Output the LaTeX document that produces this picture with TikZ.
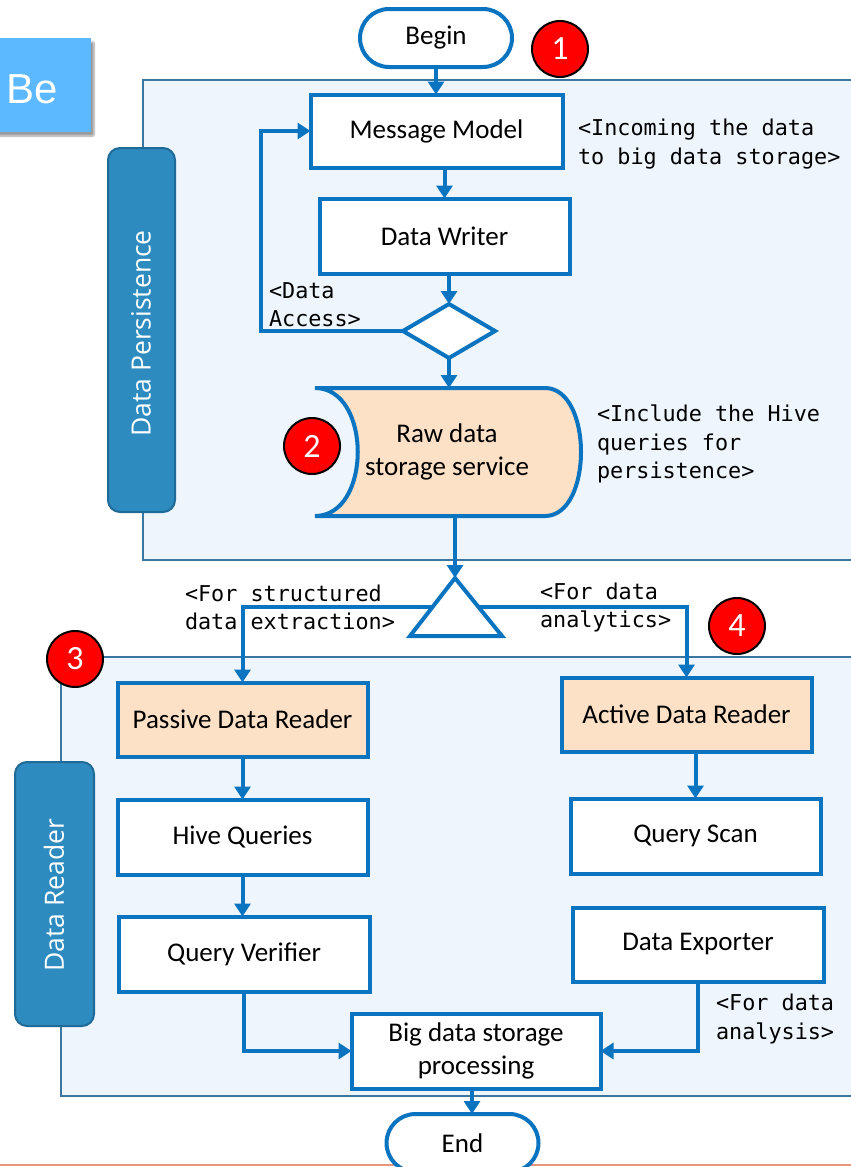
\documentclass[tikz,border=0pt]{standalone}
\usepackage{fontspec}
\setmainfont{Carlito}
\newfontfamily\codefont{DejaVu Sans Mono}
\newfontfamily\tabfont{Open Sans}
\newfontfamily\logofont{Liberation Sans}
\usetikzlibrary{arrows.meta,shapes.misc,shapes.geometric,calc,shadows.blur}

\definecolor{flow}{HTML}{0A74C0}
\definecolor{panelfill}{HTML}{EEF5FD}
\definecolor{paneledge}{HTML}{3A76A0}
\definecolor{tabfill}{HTML}{2E8BC0}
\definecolor{tabedge}{HTML}{1F6A96}
\definecolor{peach}{HTML}{FDE1C7}
\definecolor{badgered}{HTML}{FF0000}
\definecolor{logoblue}{HTML}{5CB8FF}
\definecolor{rulecol}{HTML}{E8967A}

\begin{document}
\begin{tikzpicture}[x=1pt,y=-1pt,
  every node/.style={inner sep=0pt, outer sep=0pt},
  boxtext/.style={font=\fontsize{27}{33}\selectfont, align=center},
  box/.style={boxtext, draw=flow, line width=4pt, fill=white, minimum width=250pt, minimum height=74pt},
  hotbox/.style={box, fill=peach},
  terminal/.style={boxtext, rounded rectangle, draw=flow, line width=4pt, fill=white, minimum width=152pt, minimum height=58pt},
  decision/.style={diamond, aspect=1.7, draw=flow, line width=4pt, fill=white, minimum width=92pt, minimum height=54pt},
  flowline/.style={draw=flow, line width=4pt},
  arrow/.style={flowline, -{Triangle[width=16pt,length=13pt]}},
  panel/.style={draw=paneledge, line width=2.5pt, fill=panelfill},
  tab/.style={draw=tabedge, line width=2pt, fill=tabfill, rounded corners=12pt},
  tabtext/.style={text=white, font=\tabfont\fontsize{26.5}{30}\selectfont},
  anno/.style={font=\codefont\fontsize{21.8}{28.5}\selectfont, align=left, anchor=west},
  badge/.style={circle, fill=badgered, draw=black, line width=2pt, minimum size=56pt, text=white, font=\fontsize{34}{34}\selectfont},
]
\useasboundingbox (0,0) rectangle (851,1167);
\clip (0,0) rectangle (851,1167);

% swim-lane panels
\draw[panel] (143,80) rectangle (880,560);
\draw[panel] (61,657) rectangle (880,1096);

% lane tabs
\node[tab, rotate=90, minimum width=364pt, minimum height=67pt] (tabA) at (141.5,330) {};
\node[tabtext, rotate=90] (tabAtext) at (141,333.5) {Data Persistence};
\node[tab, rotate=90, minimum width=264pt, minimum height=79pt] (tabB) at (54.5,894) {};
\node[tabtext, rotate=90] (tabBtext) at (54,895) {Data Reader};

% logo corner
\path[fill=logoblue, blur shadow={shadow xshift=3pt, shadow yshift=-4pt, shadow blur steps=6, shadow blur extra rounding=1pt}] (-10,38) rectangle (91,132);
\node[anchor=base east, text=white, font=\logofont\fontsize{42}{42}\selectfont] (logo) at (58,103) {Be};

% bottom rule
\draw[rulecol, line width=2.5pt] (0,1165) -- (851,1165);

% persistence lane
\node[terminal] (begin) at (436,38) {Begin};
\node[box, minimum width=252pt, minimum height=73pt] (mm) at (436.5,131) {Message Model};
\node[box, minimum width=250pt, minimum height=75pt] (dw) at (444.5,236) {Data Writer};
\node[decision] (dec) at (449,331) {};

\path[draw=flow, line width=4pt, fill=peach]
  (315,388) -- (545,388) .. controls (593,388) and (593,516) .. (545,516)
  -- (315,516) .. controls (372,516) and (372,388) .. (315,388) -- cycle;
\node[boxtext] (raw) at (447,452) {Raw data\\storage service};
\coordinate (rawtop) at (449,388);
\coordinate (rawbot) at (455,516);

\coordinate (triA) at (455,578);
\coordinate (triL) at (410,636);
\coordinate (triR) at (502,636);
\draw[flowline, fill=white, line join=miter] (triA) -- (triL) -- (triR) -- cycle;

% reader lane
\node[hotbox] (pdr) at (242.5,719.5) {Passive Data Reader};
\node[box, minimum height=75pt] (hq) at (242.5,837) {Hive Queries};
\node[box, minimum width=251pt, minimum height=75pt] (qv) at (244,954) {Query Verifier};
\node[hotbox] (adr) at (686.5,714.5) {Active Data Reader};
\node[box, minimum height=75pt] (qs) at (695.5,836) {Query Scan};
\node[box, minimum width=251pt] (de) at (698,944.5) {Data Exporter};
\node[box, minimum width=249pt, minimum height=75pt] (bdsp) at (476,1051) {Big data storage\\processing};
\node[terminal, minimum width=152pt] (end) at (462.5,1143) {End};

% connectors
\coordinate (loopx) at (261,0);
\coordinate (endx) at (472,0);
\draw[arrow] (begin.south) -- (begin.south |- mm.north);
\draw[arrow] (dw.north |- mm.south) -- (dw.north);
\draw[arrow] (dec.north |- dw.south) -- (dec.north);
\draw[arrow] (dec.south) -- (rawtop);
\draw[arrow, line join=miter] (dec.west) -- (dec.west -| loopx) |- (mm.west);
\draw[arrow] (rawbot) -- (triA);
\draw[arrow, line join=miter] ($(triA)!0.5!(triL)$) -| (pdr.north);
\draw[arrow, line join=miter] ($(triA)!0.5!(triR)$) -| (adr.north);
\draw[arrow] (pdr.south) -- (hq.north);
\draw[arrow] (hq.south) -- (hq.south |- qv.north);
\draw[arrow] (adr.south -| qs.north) -- (qs.north);
\draw[arrow, line join=miter] (qv.south) |- (bdsp.west);
\draw[arrow, line join=miter] (de.south) |- (bdsp.east);
\draw[arrow] (bdsp.south -| endx) -- (end.north -| endx);

% annotations
\node[anno] (a1) at (578,144) {<Incoming the data\\to big data storage>};
\node[anno] (a2) at (269,304.5) {<Data\\Access>};
\node[anno] (a3) at (597,444) {<Include the Hive\\queries for\\persistence>};
\node[anno] (a4) at (185,607.5) {<For structured\\data extraction>};
\node[anno] (a5) at (540,607.5) {<For data\\analytics>};
\node[anno] (a6) at (716,1019) {<For data\\analysis>};

% step badges
\node[badge] (b1) at (560,49) {1};
\node[badge] (b2) at (312,446) {2};
\node[badge] (b3) at (75,659) {3};
\node[badge] (b4) at (737,626) {4};
\end{tikzpicture}
\end{document}
